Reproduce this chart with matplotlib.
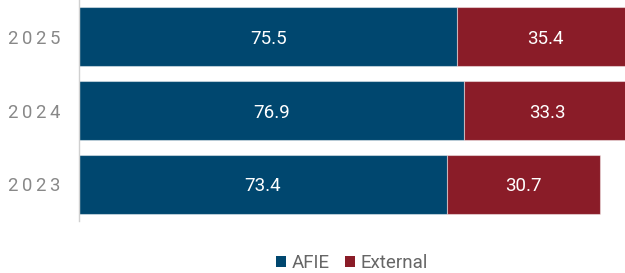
import matplotlib
matplotlib.use("Agg")
import matplotlib.pyplot as plt
import numpy as np
from matplotlib.patches import Patch
from matplotlib.transforms import offset_copy

plt.rcParams['font.family'] = ['Roboto', 'DejaVu Sans']

years = ["2023", "2024", "2025"]
afie = [73.4, 76.9, 75.5]
external = [30.7, 33.3, 35.4]
series_names = ["AFIE", "External"]

blue = "#00476F"
red = "#8A1C28"

fig = plt.figure(figsize=(6.25, 2.73), dpi=100)
ax = fig.add_axes([79/625, 1 - 221/273, 1 - 79/625, 221/273])

y = np.arange(len(years))
h = 0.8
ax.barh(y, afie, height=h, color=blue, edgecolor=(1, 1, 1, 0.45), linewidth=0.8)
ax.barh(y, external, left=afie, height=h, color=red, edgecolor=(1, 1, 1, 0.45), linewidth=0.8)

for yi, a, e in zip(y, afie, external):
    ax.text(a / 2, yi, f"{a:.1f}", ha="center", va="center_baseline", color="white", fontsize=13.5)
    ax.text(a + e / 2, yi, f"{e:.1f}", ha="center", va="center_baseline", color="white", fontsize=13.5)

ax.set_xlim(0, 109.0)
ax.set_ylim(-0.5, 2.5)
ax.set_yticks(y)
ax.set_yticklabels([])
ax.tick_params(axis="y", length=0)
ax.set_xticks([])

# year labels with letter spacing
fs = 13.3
pitch_pt = 14.0 * 72 / 100  # advance + tracking in points
right_pad_pt = 24.3 * 72 / 100
trans = ax.get_yaxis_transform()
for yi, yr in zip(y, years):
    n = len(yr)
    for i, ch in enumerate(yr):
        dx = -right_pad_pt - (n - 1 - i) * pitch_pt
        t = offset_copy(trans, fig=fig, x=dx, y=0, units="points")
        ax.text(0, yi, ch, transform=t, ha="center", va="center_baseline", color="#888888", fontsize=fs)

for s in ["top", "right", "bottom"]:
    ax.spines[s].set_visible(False)
ax.spines["left"].set_color("#d0d0d0")
ax.spines["left"].set_linewidth(1.0)

handles = [Patch(facecolor=blue, label=series_names[0]), Patch(facecolor=red, label=series_names[1])]
fig.legend(handles=handles, loc="center", bbox_to_anchor=(352/625, 10/273), ncol=2, frameon=False,
           fontsize=13.5, handlelength=0.55, handleheight=0.55, handletextpad=0.3, columnspacing=0.8,
           labelcolor="#666666")

fig.savefig("out.png", dpi=100)
